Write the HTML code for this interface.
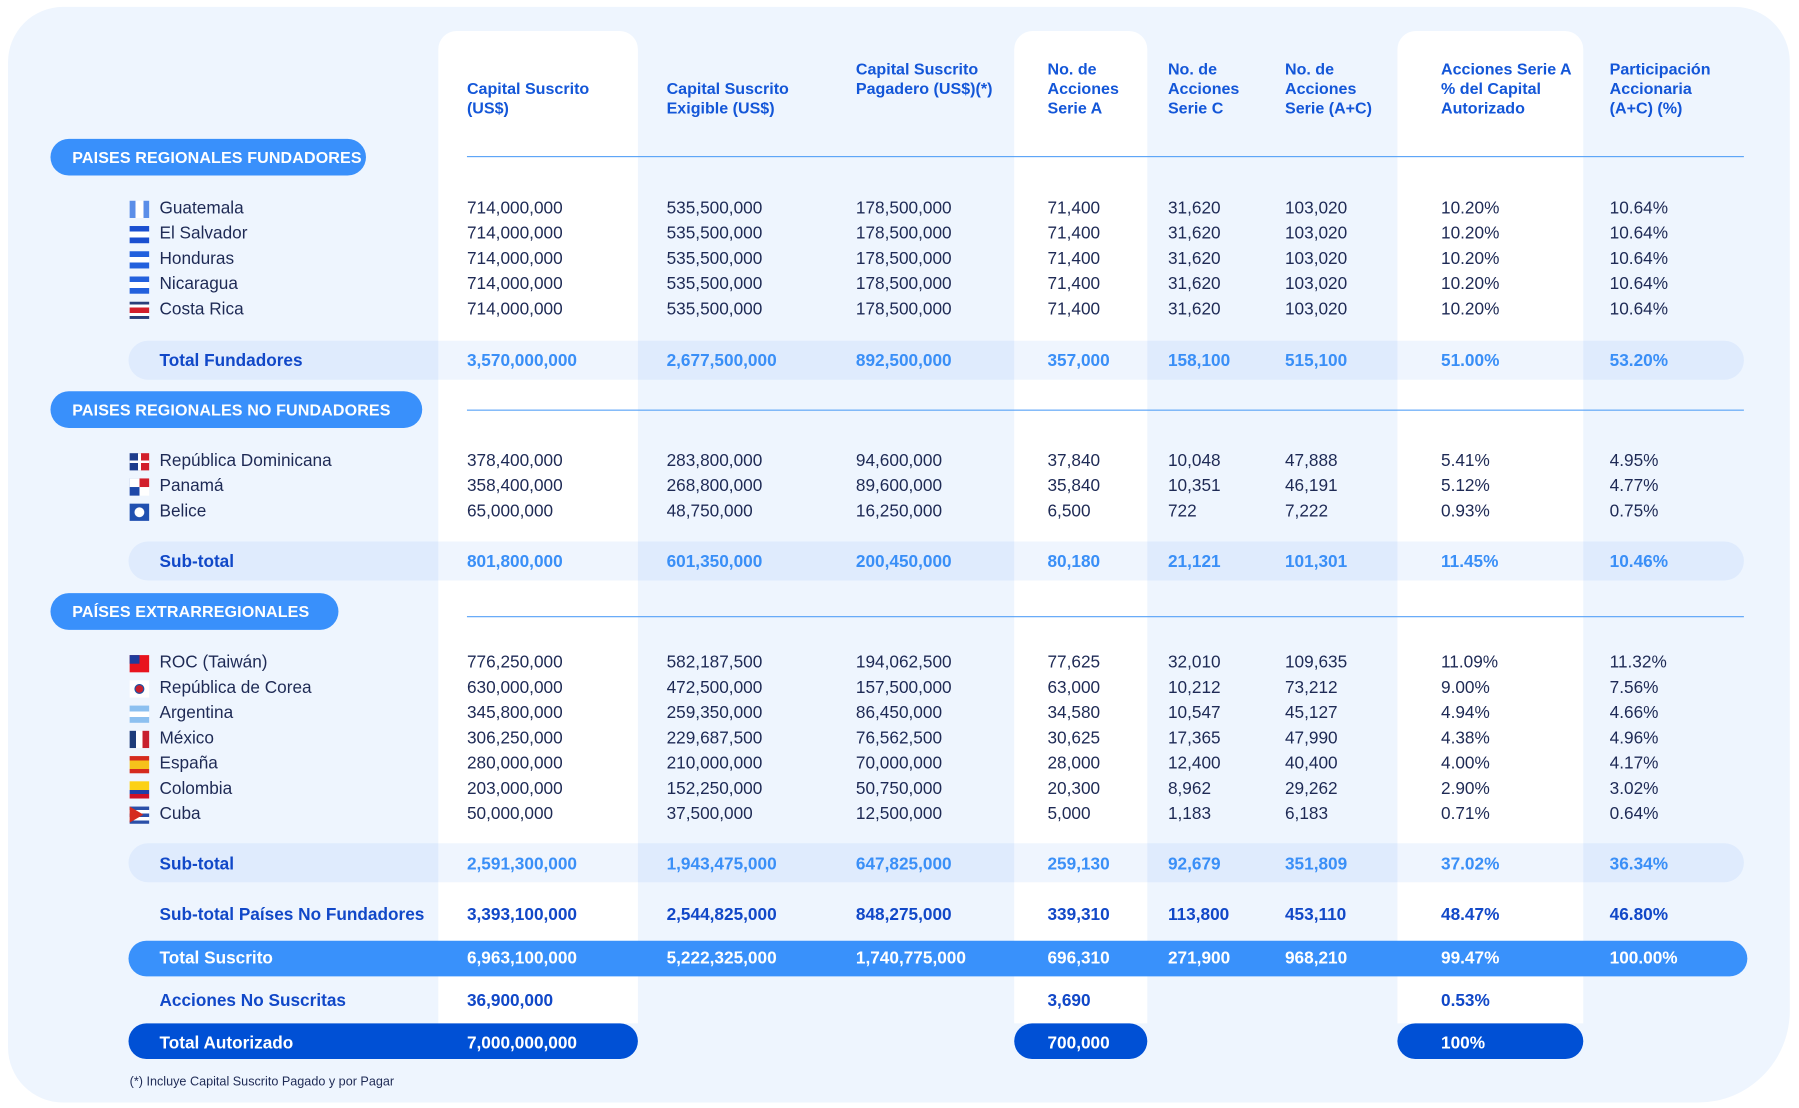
<!DOCTYPE html>
<html><head><meta charset="utf-8"><style>
html,body{margin:0;padding:0;background:#fff;width:1799px;height:1108px;overflow:hidden}
#c{position:absolute;left:0;top:0;width:1568px;height:966px;transform:scale(1.1473);transform-origin:0 0;font-family:"Liberation Sans",sans-serif;font-size:15px;color:#1e2a55}
.a{position:absolute}
.bg{left:7px;top:6px;width:1553px;height:955px;background:#eef5fe;border-radius:48px 48px 80px 48px}
.wc{top:27px;height:865px;background:#fff;border-radius:16px 16px 0 0}
.pill{height:32px;line-height:32px;background:#3990fb;color:#fff;border-radius:16px;padding-left:19px;box-sizing:border-box;font-size:14px;font-weight:bold;letter-spacing:0.1px}
.ln{height:1px;background:#5aa3f7;left:407px;width:1113px}
.h{color:#1356d8;font-weight:bold;font-size:14px;line-height:17px}
.r{position:absolute;left:0;width:1568px;height:20px;line-height:20px}
.r span{position:absolute;white-space:nowrap}
.band{background:rgba(30,120,240,0.07);border-radius:17px;left:112px;width:1408px;height:34px}
.sb{color:#3a8ff7;font-weight:bold}
.sb span:first-child{color:#1148c8}
.dk{color:#1148c8;font-weight:bold}
.wt{color:#fff;font-weight:bold}
.f{position:absolute;left:113px;width:17px;height:15px;top:3px}
</style></head><body><div id="c">
<div class="a bg"></div>
<div class="a wc" style="left:382px;width:174px"></div>
<div class="a wc" style="left:884px;width:116px"></div>
<div class="a wc" style="left:1218px;width:162px"></div>

<div class="a h" style="left:407px;top:69px">Capital Suscrito<br>(US$)</div>
<div class="a h" style="left:581px;top:69px">Capital Suscrito<br>Exigible (US$)</div>
<div class="a h" style="left:746px;top:52px">Capital Suscrito<br>Pagadero (US$)(*)</div>
<div class="a h" style="left:913px;top:52px">No. de<br>Acciones<br>Serie A</div>
<div class="a h" style="left:1018px;top:52px">No. de<br>Acciones<br>Serie C</div>
<div class="a h" style="left:1120px;top:52px">No. de<br>Acciones<br>Serie (A+C)</div>
<div class="a h" style="left:1256px;top:52px">Acciones Serie A<br>% del Capital<br>Autorizado</div>
<div class="a h" style="left:1403px;top:52px">Participación<br>Accionaria<br>(A+C) (%)</div>

<div class="a ln" style="top:136px"></div>
<div class="a ln" style="top:357px"></div>
<div class="a ln" style="top:537px"></div>
<div class="a pill" style="left:44px;top:121px;width:275px">PAISES REGIONALES FUNDADORES</div>
<div class="a pill" style="left:44px;top:341px;width:324px">PAISES REGIONALES NO FUNDADORES</div>
<div class="a pill" style="left:44px;top:517px;width:251px">PAÍSES EXTRARREGIONALES</div>

<div class="a band" style="top:297px"></div>
<div class="a band" style="top:472px"></div>
<div class="a band" style="top:735px"></div>
<div class="a" style="left:112px;top:820px;width:1411px;height:31px;background:#3991fb;border-radius:16px"></div>
<div class="a" style="left:112px;top:892px;width:444px;height:31px;background:#0050d5;border-radius:16px"></div>
<div class="a" style="left:884px;top:892px;width:116px;height:31px;background:#0050d5;border-radius:16px"></div>
<div class="a" style="left:1218px;top:892px;width:162px;height:31px;background:#0050d5;border-radius:16px"></div>

<div class="r" style="top:172px"><i class="f" style="background:linear-gradient(90deg,#5b8ee8 30%,#fff 30%,#fff 70%,#5b8ee8 70%)"></i><span style="left:139px">Guatemala</span><span style="left:407px">714,000,000</span><span style="left:581px">535,500,000</span><span style="left:746px">178,500,000</span><span style="left:913px">71,400</span><span style="left:1018px">31,620</span><span style="left:1120px">103,020</span><span style="left:1256px">10.20%</span><span style="left:1403px">10.64%</span></div>
<div class="r" style="top:194px"><i class="f" style="background:linear-gradient(#1a4fd0 33%,#fff 33%,#fff 66%,#1a4fd0 66%)"></i><span style="left:139px">El Salvador</span><span style="left:407px">714,000,000</span><span style="left:581px">535,500,000</span><span style="left:746px">178,500,000</span><span style="left:913px">71,400</span><span style="left:1018px">31,620</span><span style="left:1120px">103,020</span><span style="left:1256px">10.20%</span><span style="left:1403px">10.64%</span></div>
<div class="r" style="top:216px"><i class="f" style="background:linear-gradient(#2260dd 33%,#fff 33%,#fff 66%,#2260dd 66%)"></i><span style="left:139px">Honduras</span><span style="left:407px">714,000,000</span><span style="left:581px">535,500,000</span><span style="left:746px">178,500,000</span><span style="left:913px">71,400</span><span style="left:1018px">31,620</span><span style="left:1120px">103,020</span><span style="left:1256px">10.20%</span><span style="left:1403px">10.64%</span></div>
<div class="r" style="top:238px"><i class="f" style="background:linear-gradient(#2260dd 33%,#fff 33%,#fff 66%,#2260dd 66%)"></i><span style="left:139px">Nicaragua</span><span style="left:407px">714,000,000</span><span style="left:581px">535,500,000</span><span style="left:746px">178,500,000</span><span style="left:913px">71,400</span><span style="left:1018px">31,620</span><span style="left:1120px">103,020</span><span style="left:1256px">10.20%</span><span style="left:1403px">10.64%</span></div>
<div class="r" style="top:260px"><i class="f" style="background:linear-gradient(#2a3f7a 16%,#fff 16%,#fff 33%,#d21f2b 33%,#d21f2b 66%,#fff 66%,#fff 83%,#2a3f7a 83%)"></i><span style="left:139px">Costa Rica</span><span style="left:407px">714,000,000</span><span style="left:581px">535,500,000</span><span style="left:746px">178,500,000</span><span style="left:913px">71,400</span><span style="left:1018px">31,620</span><span style="left:1120px">103,020</span><span style="left:1256px">10.20%</span><span style="left:1403px">10.64%</span></div>
<div class="r sb" style="top:305px"><span style="left:139px">Total Fundadores</span><span style="left:407px">3,570,000,000</span><span style="left:581px">2,677,500,000</span><span style="left:746px">892,500,000</span><span style="left:913px">357,000</span><span style="left:1018px">158,100</span><span style="left:1120px">515,100</span><span style="left:1256px">51.00%</span><span style="left:1403px">53.20%</span></div>

<div class="r" style="top:392px"><i class="f" style="background:linear-gradient(90deg,transparent 42%,#fff 42%,#fff 58%,transparent 58%),linear-gradient(transparent 42%,#fff 42%,#fff 58%,transparent 58%),linear-gradient(90deg,#1e3c8c 50%,#d21f2b 50%)"></i><span style="left:139px">República Dominicana</span><span style="left:407px">378,400,000</span><span style="left:581px">283,800,000</span><span style="left:746px">94,600,000</span><span style="left:913px">37,840</span><span style="left:1018px">10,048</span><span style="left:1120px">47,888</span><span style="left:1256px">5.41%</span><span style="left:1403px">4.95%</span></div>
<div class="r" style="top:414px"><i class="f" style="background:linear-gradient(90deg,#fff 50%,#d21f2b 50%) top/100% 50% no-repeat,linear-gradient(90deg,#1e48a8 50%,#fff 50%)"></i><span style="left:139px">Panamá</span><span style="left:407px">358,400,000</span><span style="left:581px">268,800,000</span><span style="left:746px">89,600,000</span><span style="left:913px">35,840</span><span style="left:1018px">10,351</span><span style="left:1120px">46,191</span><span style="left:1256px">5.12%</span><span style="left:1403px">4.77%</span></div>
<div class="r" style="top:436px"><i class="f" style="background:radial-gradient(circle,#fff 35%,#2050b0 40%);"></i><span style="left:139px">Belice</span><span style="left:407px">65,000,000</span><span style="left:581px">48,750,000</span><span style="left:746px">16,250,000</span><span style="left:913px">6,500</span><span style="left:1018px">722</span><span style="left:1120px">7,222</span><span style="left:1256px">0.93%</span><span style="left:1403px">0.75%</span></div>
<div class="r sb" style="top:480px"><span style="left:139px">Sub-total</span><span style="left:407px">801,800,000</span><span style="left:581px">601,350,000</span><span style="left:746px">200,450,000</span><span style="left:913px">80,180</span><span style="left:1018px">21,121</span><span style="left:1120px">101,301</span><span style="left:1256px">11.45%</span><span style="left:1403px">10.46%</span></div>

<div class="r" style="top:568px"><i class="f" style="background:linear-gradient(90deg,#1e3c9c 50%,transparent 50%) top/100% 50% no-repeat,#e8141e"></i><span style="left:139px">ROC (Taiwán)</span><span style="left:407px">776,250,000</span><span style="left:581px">582,187,500</span><span style="left:746px">194,062,500</span><span style="left:913px">77,625</span><span style="left:1018px">32,010</span><span style="left:1120px">109,635</span><span style="left:1256px">11.09%</span><span style="left:1403px">11.32%</span></div>
<div class="r" style="top:590px"><i class="f" style="background:radial-gradient(circle,#c8202e 28%,#2050a0 30%,#2050a0 36%,#fff 40%)"></i><span style="left:139px">República de Corea</span><span style="left:407px">630,000,000</span><span style="left:581px">472,500,000</span><span style="left:746px">157,500,000</span><span style="left:913px">63,000</span><span style="left:1018px">10,212</span><span style="left:1120px">73,212</span><span style="left:1256px">9.00%</span><span style="left:1403px">7.56%</span></div>
<div class="r" style="top:612px"><i class="f" style="background:linear-gradient(#8cc0f0 33%,#fff 33%,#fff 66%,#8cc0f0 66%)"></i><span style="left:139px">Argentina</span><span style="left:407px">345,800,000</span><span style="left:581px">259,350,000</span><span style="left:746px">86,450,000</span><span style="left:913px">34,580</span><span style="left:1018px">10,547</span><span style="left:1120px">45,127</span><span style="left:1256px">4.94%</span><span style="left:1403px">4.66%</span></div>
<div class="r" style="top:634px"><i class="f" style="background:linear-gradient(90deg,#1e3c7a 33%,#fff 33%,#fff 66%,#c8202e 66%)"></i><span style="left:139px">México</span><span style="left:407px">306,250,000</span><span style="left:581px">229,687,500</span><span style="left:746px">76,562,500</span><span style="left:913px">30,625</span><span style="left:1018px">17,365</span><span style="left:1120px">47,990</span><span style="left:1256px">4.38%</span><span style="left:1403px">4.96%</span></div>
<div class="r" style="top:656px"><i class="f" style="background:linear-gradient(#d52b1e 25%,#f6c21b 25%,#f6c21b 75%,#d52b1e 75%)"></i><span style="left:139px">España</span><span style="left:407px">280,000,000</span><span style="left:581px">210,000,000</span><span style="left:746px">70,000,000</span><span style="left:913px">28,000</span><span style="left:1018px">12,400</span><span style="left:1120px">40,400</span><span style="left:1256px">4.00%</span><span style="left:1403px">4.17%</span></div>
<div class="r" style="top:678px"><i class="f" style="background:linear-gradient(#fcd116 50%,#1f3fa8 50%,#1f3fa8 75%,#ce1126 75%)"></i><span style="left:139px">Colombia</span><span style="left:407px">203,000,000</span><span style="left:581px">152,250,000</span><span style="left:746px">50,750,000</span><span style="left:913px">20,300</span><span style="left:1018px">8,962</span><span style="left:1120px">29,262</span><span style="left:1256px">2.90%</span><span style="left:1403px">3.02%</span></div>
<div class="r" style="top:700px"><i class="f" style="background:linear-gradient(#2a4fa8 20%,#fff 20%,#fff 40%,#2a4fa8 40%,#2a4fa8 60%,#fff 60%,#fff 80%,#2a4fa8 80%)"></i><i class="f" style="width:0;height:0;border-top:7.5px solid transparent;border-bottom:7.5px solid transparent;border-left:12px solid #d52b1e"></i><span style="left:139px">Cuba</span><span style="left:407px">50,000,000</span><span style="left:581px">37,500,000</span><span style="left:746px">12,500,000</span><span style="left:913px">5,000</span><span style="left:1018px">1,183</span><span style="left:1120px">6,183</span><span style="left:1256px">0.71%</span><span style="left:1403px">0.64%</span></div>
<div class="r sb" style="top:744px"><span style="left:139px">Sub-total</span><span style="left:407px">2,591,300,000</span><span style="left:581px">1,943,475,000</span><span style="left:746px">647,825,000</span><span style="left:913px">259,130</span><span style="left:1018px">92,679</span><span style="left:1120px">351,809</span><span style="left:1256px">37.02%</span><span style="left:1403px">36.34%</span></div>

<div class="r dk" style="top:788px"><span style="left:139px">Sub-total Países No Fundadores</span><span style="left:407px">3,393,100,000</span><span style="left:581px">2,544,825,000</span><span style="left:746px">848,275,000</span><span style="left:913px">339,310</span><span style="left:1018px">113,800</span><span style="left:1120px">453,110</span><span style="left:1256px">48.47%</span><span style="left:1403px">46.80%</span></div>
<div class="r wt" style="top:826px"><span style="left:139px">Total Suscrito</span><span style="left:407px">6,963,100,000</span><span style="left:581px">5,222,325,000</span><span style="left:746px">1,740,775,000</span><span style="left:913px">696,310</span><span style="left:1018px">271,900</span><span style="left:1120px">968,210</span><span style="left:1256px">99.47%</span><span style="left:1403px">100.00%</span></div>
<div class="r dk" style="top:863px"><span style="left:139px">Acciones No Suscritas</span><span style="left:407px">36,900,000</span><span style="left:913px">3,690</span><span style="left:1256px">0.53%</span></div>
<div class="r wt" style="top:900px"><span style="left:139px">Total Autorizado</span><span style="left:407px">7,000,000,000</span><span style="left:913px">700,000</span><span style="left:1256px">100%</span></div>
<div class="a" style="left:113px;top:937px;font-size:11px;color:#1e2a55">(*) Incluye Capital Suscrito Pagado y por Pagar</div>
</div></body></html>
